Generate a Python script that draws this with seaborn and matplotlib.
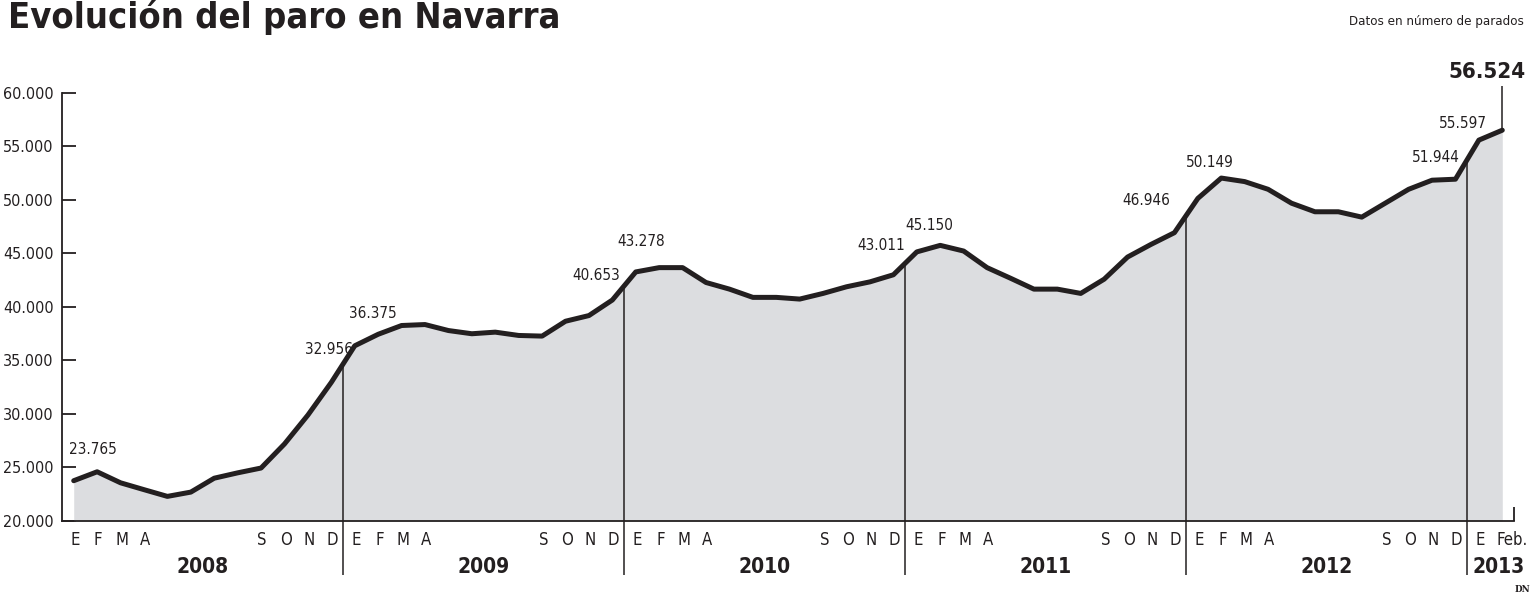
import numpy as np
import pandas as pd
import matplotlib
matplotlib.use('Agg')
import matplotlib.pyplot as plt
import seaborn as sns

# Paro registrado en Navarra, enero 2008 - febrero 2013 (valores mensuales)
parados_2008 = [23765, 24600, 23570, 22930, 22300, 22700, 24000, 24500, 24950, 27200, 29900, 32956]
parados_2009 = [36375, 37450, 38270, 38360, 37800, 37500, 37650, 37340, 37280, 38670, 39200, 40653]
parados_2010 = [43278, 43680, 43680, 42290, 41670, 40900, 40900, 40740, 41270, 41890, 42350, 43011]
parados_2011 = [45150, 45760, 45230, 43680, 42690, 41670, 41670, 41270, 42600, 44670, 45850, 46946]
parados_2012 = [50149, 52050, 51720, 51000, 49700, 48900, 48900, 48400, 49700, 51000, 51850, 51944]
parados_2013 = [55597, 56524]

years = ['2008', '2009', '2010', '2011', '2012', '2013']
month_letters = ['E', 'F', 'M', 'A', '', '', '', '', 'S', 'O', 'N', 'D']
month_letters_2013 = ['E', 'Feb.']
y_ticks = [20000, 25000, 30000, 35000, 40000, 45000, 50000, 55000, 60000]

# months that carry a value label, and where the label sits (index offset, value offset)
labelled_months = [0, 11, 12, 23, 24, 35, 36, 47, 48, 59, 60]
label_offsets = [(0.8, 2950), (-0.1, 3050), (0.78, 3000), (-0.7, 2320), (0.25, 2800),
                 (-0.5, 2690), (0.55, 2450), (-1.2, 3050), (0.5, 3360), (-0.84, 2030), (-0.68, 1550)]

values = parados_2008 + parados_2009 + parados_2010 + parados_2011 + parados_2012 + parados_2013
df = pd.DataFrame({'mes': np.arange(len(values)), 'parados': values})

def fmt(v):
    return f'{v:,}'.replace(',', '.')

sns.set_style('white')
plt.rcParams['font.family'] = ['DejaVu Sans']
plt.rcParams['font.stretch'] = 'condensed'

ink = '#231f20'
fig = plt.figure(figsize=(15.32, 5.97), dpi=100)
ax = fig.add_axes([62 / 1532, 76 / 597, 1452 / 1532, 428 / 597])

ax.fill_between(df['mes'], 20000, df['parados'], color='#dcdde0', lw=0, zorder=1)
sns.lineplot(data=df, x='mes', y='parados', color=ink, lw=3.6, ax=ax, zorder=3,
             solid_joinstyle='round', solid_capstyle='round')

ax.set_xlim(-0.5, len(values) - 0.5)
ax.set_ylim(20000, 60000)
ax.set_xlabel('')
ax.set_ylabel('')

for s in ['top', 'right']:
    ax.spines[s].set_visible(False)
for s in ['left', 'bottom']:
    ax.spines[s].set_color(ink)
    ax.spines[s].set_linewidth(1.3)

ax.set_yticks(y_ticks)
ax.set_yticklabels([fmt(t) for t in y_ticks])
ax.set_xticks(np.arange(0.5, len(values), 1))
ax.set_xticklabels([])
ax.tick_params(axis='y', direction='in', length=10, width=1.3, color=ink,
               labelsize=11.5, labelcolor=ink, pad=6, left=True)
ax.tick_params(axis='x', direction='in', length=10, width=1.3, color=ink, bottom=True)

# year dividers, from below the axis up to the curve
xt = ax.get_xaxis_transform()
for k in range(1, len(years)):
    xb = 12 * k - 0.5
    yc = np.interp(xb, df['mes'], df['parados'])
    ax.vlines(xb, 14950, yc, color=ink, lw=1.1, clip_on=False, zorder=2)

# month letters and years
for k, yr in enumerate(years):
    letters = month_letters if yr != '2013' else month_letters_2013
    for m, lt in enumerate(letters):
        xm = 12 * k + m + 0.05 if lt != 'Feb.' else 12 * k + m + 0.4
        ax.text(xm, -0.045, lt, transform=xt, ha='center', va='center',
                fontsize=12, color=ink, clip_on=False)
    xc = 12 * k + 5.5 if yr != '2013' else 60.85
    ax.text(xc, -0.108, yr, transform=xt, ha='center', va='center',
            fontsize=15, fontweight='bold', color=ink, clip_on=False)

# value labels
for m, (dx, dy) in zip(labelled_months, label_offsets):
    ax.text(m + dx, values[m] + dy, fmt(values[m]), ha='center', va='center',
            fontsize=11, color=ink, zorder=4)

# last value, highlighted
last = len(values) - 1
ax.vlines(last, values[last], 60700, color=ink, lw=1.1, clip_on=False, zorder=2)
ax.text(last + 1.0, 61950, fmt(values[last]), ha='right', va='center',
        fontsize=16, fontweight='bold', color=ink, clip_on=False)

fig.text(8 / 1532, 1 - 28 / 597, 'Evolución del paro en Navarra', ha='left', va='baseline',
         fontsize=26, fontweight='bold', color=ink)
fig.text(1524 / 1532, 1 - 22 / 597, 'Datos en número de parados', ha='right', va='center',
         fontsize=9.5, color=ink)
fig.text(1530 / 1532, 1 - 589 / 597, 'DN', ha='right', va='center', fontsize=7,
         fontweight='bold', family='DejaVu Serif', color=ink)

fig.savefig('out.png', dpi=100)
